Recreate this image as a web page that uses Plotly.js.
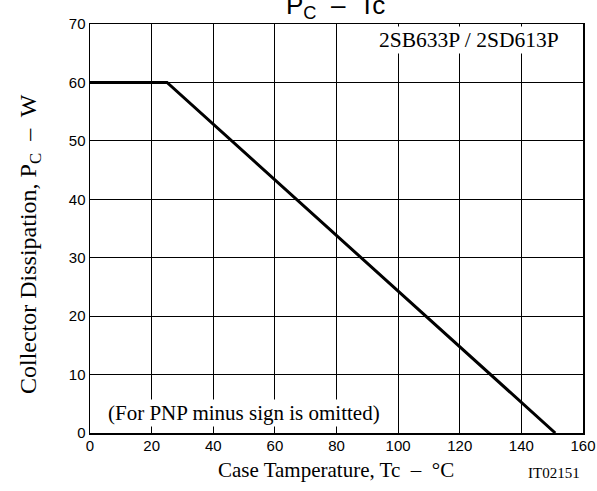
<!DOCTYPE html>
<html><head><meta charset="utf-8">
<script src="https://cdn.plot.ly/plotly-3.0.1.min.js"></script>
<style>html,body{margin:0;padding:0;background:#fff}</style>
</head><body>
<div id="chart" style="width:597px;height:491px"></div>
<script>
const tempC = [0, 25, 151];
const powerW = [60, 60, 0];
const xTicks = [0, 20, 40, 60, 80, 100, 120, 140, 160];
const yTicks = [0, 10, 20, 30, 40, 50, 60, 70];

const serif = 'Liberation Serif, Times New Roman, serif';
const sans = 'Liberation Sans, Arial, sans-serif';
const trace = {
  x: tempC, y: powerW, mode: 'lines', type: 'scatter',
  line: {color: '#000', width: 3}, hoverinfo: 'skip'
};
const axisCommon = {
  showline: true, mirror: true, linecolor: '#000', linewidth: 1.5,
  showgrid: true, gridcolor: '#000', gridwidth: 1,
  zeroline: false, ticks: '', ticklen: 0,
  tickfont: {family: sans, size: 15, color: '#000'}
};
const layout = {
  width: 597, height: 491,
  margin: {l: 90, r: 14, t: 24, b: 58},
  paper_bgcolor: '#fff', plot_bgcolor: '#fff',
  showlegend: false,
  xaxis: Object.assign({}, axisCommon, {
    range: [0, 160], tickvals: xTicks, ticktext: xTicks.map(String),
    ticklabelstandoff: -2
  }),
  yaxis: Object.assign({}, axisCommon, {
    range: [0, 70], tickvals: yTicks, ticktext: yTicks.map(String)
  }),
  annotations: [
    {text: 'P<sub>C</sub>  –  Tc', xref: 'paper', yref: 'paper', x: 0.497, y: 1.0416,
     xanchor: 'center', yanchor: 'middle', showarrow: false,
     font: {family: sans, size: 26, color: '#000'}},
    {text: 'Case Tamperature, Tc  –  °C', xref: 'paper', yref: 'paper', x: 0.499, y: -0.0905,
     xanchor: 'center', yanchor: 'middle', showarrow: false,
     font: {family: serif, size: 21, color: '#000'}},
    {text: 'Collector Dissipation, P<sub>C</sub>  –  W', xref: 'paper', yref: 'paper', x: -0.1217, y: 0.462,
     xanchor: 'center', yanchor: 'middle', showarrow: false, textangle: -90,
     font: {family: serif, size: 24, color: '#000'}},
    {text: '2SB633P / 2SD613P', xref: 'paper', yref: 'paper', x: 0.955, y: 0.995,
     xanchor: 'right', yanchor: 'top', showarrow: false, bgcolor: '#fff',
     font: {family: serif, size: 21.5, color: '#000'}},
    {text: '(For PNP minus sign is omitted)', xref: 'paper', yref: 'paper', x: 0.033, y: 0.05,
     xanchor: 'left', yanchor: 'middle', showarrow: false, bgcolor: '#fff',
     font: {family: serif, size: 21, color: '#000'}},
    {text: 'IT02151', xref: 'paper', yref: 'paper', x: 0.941, y: -0.0978,
     xanchor: 'center', yanchor: 'middle', showarrow: false,
     font: {family: serif, size: 15, color: '#000'}}
  ]
};
Plotly.newPlot('chart', [trace], layout, {displayModeBar: false, staticPlot: true});
</script>
</body></html>
